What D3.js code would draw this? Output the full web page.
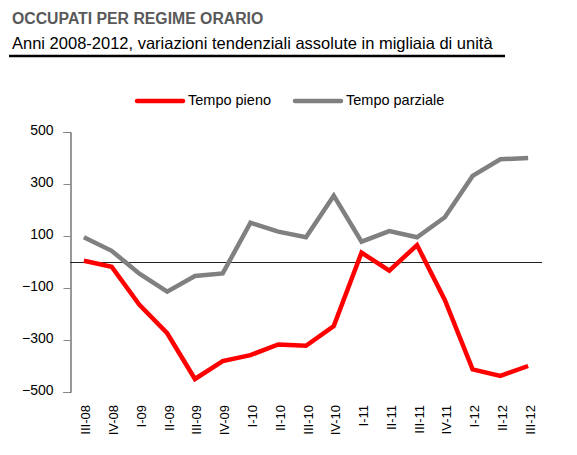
<!DOCTYPE html>
<html>
<head>
<meta charset="utf-8">
<script src="https://cdn.jsdelivr.net/npm/d3@7"></script>
<style>
  body { margin: 0; background: #fff; }
  text { font-family: "Liberation Sans", Arial, sans-serif; }
</style>
</head>
<body>
<div id="chart"></div>
<script>
// Quarters (x axis)
const quarters = ["III-08", "IV-08", "I-09", "II-09", "III-09", "IV-09", "I-10", "II-10", "III-10",
    "IV-10", "I-11", "II-11", "III-11", "IV-11", "I-12", "II-12", "III-12"];

// Tempo pieno (red)
const tempoPieno = [5, -18, -165, -274, -450, -381, -358, -317, -322, -246, 36, -33, 65, -146, -413, -438, -400];

// Tempo parziale (grey)
const tempoParziale = [95, 43, -45, -114, -54, -44, 151, 117, 95, 255, 78, 119, 95, 172, 331, 395, 400];

const yTicks = [500, 300, 100, -100, -300, -500];

const series = [
    { name: "Tempo pieno", values: tempoPieno, color: "#ff0000" },
    { name: "Tempo parziale", values: tempoParziale, color: "#808080" }
];

const W = 577, H = 455;
const svg = d3.select("#chart").append("svg")
    .attr("width", W)
    .attr("height", H);

// Title block
svg.append("text")
    .attr("x", 12)
    .attr("y", 23.5)
    .attr("font-size", "15.8px")
    .attr("font-weight", "bold")
    .attr("fill", "#595959")
    .text("OCCUPATI PER REGIME ORARIO");

svg.append("text")
    .attr("x", 12)
    .attr("y", 48.5)
    .attr("font-size", "16.5px")
    .attr("fill", "#000")
    .text("Anni 2008-2012, variazioni tendenziali assolute in migliaia di unità");

svg.append("line")
    .attr("x1", 9).attr("x2", 505)
    .attr("y1", 56).attr("y2", 56)
    .attr("stroke", "#000")
    .attr("stroke-width", 2.5);

// Scales
const x = d3.scalePoint()
    .domain(quarters)
    .range([70, 542])
    .padding(0.5);

const y = d3.scaleLinear()
    .domain([-500, 500])
    .range([392, 132]);

// Y axis
const yAxis = d3.axisLeft(y)
    .tickValues(yTicks)
    .tickSize(7)
    .tickPadding(10);

const gy = svg.append("g")
    .attr("transform", "translate(70.5,0)")
    .call(yAxis);
gy.select(".domain").attr("stroke", "#333");
gy.selectAll(".tick line").attr("stroke", "#888");
gy.selectAll(".tick text")
    .attr("font-size", "14px")
    .attr("font-family", "Liberation Sans, Arial, sans-serif")
    .attr("fill", "#000")
    .attr("dy", "0.2em");

// Zero line
svg.append("line")
    .attr("x1", 70).attr("x2", 542)
    .attr("y1", Math.round(y(0)) + 0.5).attr("y2", Math.round(y(0)) + 0.5)
    .attr("stroke", "#222")
    .attr("stroke-width", 1);

// X labels (rotated)
svg.append("g")
    .selectAll("text")
    .data(quarters)
    .join("text")
    .attr("transform", d => `translate(${x(d) + 6.5},405) rotate(-90)`)
    .attr("text-anchor", "end")
    .attr("font-size", "13px")
    .attr("fill", "#000")
    .text(d => d);

// Lines
const line = d3.line()
    .x((d, i) => x(quarters[i]))
    .y(d => y(d));

series.forEach(s => {
    svg.append("path")
        .datum(s.values)
        .attr("d", line)
        .attr("fill", "none")
        .attr("stroke", s.color)
        .attr("stroke-width", 4.5)
        .attr("stroke-linejoin", "miter")
        .attr("stroke-linecap", "butt");
});

// Legend
const legendPos = [{ x: 137, tx: 188 }, { x: 295, tx: 346 }];
series.forEach((s, i) => {
    const lp = legendPos[i];
    svg.append("line")
        .attr("x1", lp.x).attr("x2", lp.x + 46)
        .attr("y1", 101).attr("y2", 101)
        .attr("stroke", s.color)
        .attr("stroke-width", 4.5)
        .attr("stroke-linecap", "round");
    svg.append("text")
        .attr("x", lp.tx)
        .attr("y", 105)
        .attr("font-size", "14.5px")
        .attr("fill", "#000")
        .text(s.name);
});
</script>
</body>
</html>
